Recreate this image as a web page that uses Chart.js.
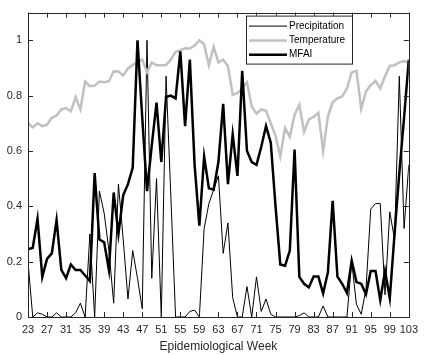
<!DOCTYPE html>
<html>
<head>
<meta charset="utf-8">
<script src="https://cdn.jsdelivr.net/npm/chart.js@4.4.1/dist/chart.umd.min.js"></script>
<style>
  html, body { margin: 0; padding: 0; background: #ffffff; }
  #wrap { width: 424px; height: 355px; }
</style>
</head>
<body>
<div id="wrap"><canvas id="c" width="424" height="355"></canvas></div>
<script>
// Epidemiological weeks on the x axis
const weeks = [
  23, 24, 25, 26, 27, 28, 29, 30, 31, 32,
  33, 34, 35, 36, 37, 38, 39, 40, 41, 42,
  43, 44, 45, 46, 47, 48, 49, 50, 51, 52,
  53, 54, 55, 56, 57, 58, 59, 60, 61, 62,
  63, 64, 65, 66, 67, 68, 69, 70, 71, 72,
  73, 74, 75, 76, 77, 78, 79, 80, 81, 82,
  83, 84, 85, 86, 87, 88, 89, 90, 91, 92,
  93, 94, 95, 96, 97, 98, 99, 100, 101, 102,
  103
];

// Normalised weekly precipitation
const precipitation = [
  0.20, 0.00, 0.015, 0.01, 0.00, 0.00, 0.015, 0.00, 0.00, 0.00,
  0.015, 0.05, 0.00, 0.30, 0.00, 0.455, 0.375, 0.24, 0.05, 0.48,
  0.28, 0.065, 0.24, 0.14, 0.03, 1.00, 0.14, 0.50, 0.00, 0.87,
  0.44, 0.00, 0.00, 0.00, 0.02, 0.025, 0.00, 0.32, 0.41, 0.46,
  0.51, 0.23, 0.34, 0.07, 0.00, 0.00, 0.11, 0.00, 0.145, 0.02,
  0.065, 0.01, 0.00, 0.00, 0.00, 0.00, 0.00, 0.005, 0.015, 0.00,
  0.00, 0.00, 0.04, 0.00, 0.00, 0.00, 0.00, 0.00, 0.20, 0.045,
  0.01, 0.10, 0.39, 0.41, 0.41, 0.08, 0.38, 0.28, 0.87, 0.32,
  0.55
];

// Normalised weekly mean temperature
const temperature = [
  0.700, 0.685, 0.700, 0.690, 0.695, 0.720, 0.728, 0.750, 0.755, 0.743,
  0.794, 0.750, 0.851, 0.834, 0.836, 0.851, 0.848, 0.852, 0.888, 0.887,
  0.873, 0.898, 0.911, 0.920, 0.931, 0.884, 0.920, 0.910, 0.910, 0.910,
  0.930, 0.958, 0.964, 0.971, 0.970, 0.981, 1.000, 0.985, 0.910, 0.976,
  0.920, 0.930, 0.907, 0.803, 0.810, 0.826, 0.848, 0.761, 0.735, 0.750,
  0.745, 0.700, 0.655, 0.580, 0.683, 0.651, 0.731, 0.767, 0.669, 0.714,
  0.723, 0.738, 0.600, 0.725, 0.776, 0.790, 0.797, 0.826, 0.884, 0.890,
  0.752, 0.815, 0.838, 0.853, 0.826, 0.870, 0.908, 0.910, 0.920, 0.925,
  0.918
];

// Mosquito-Favourable Atmospheric Index
const mfai = [
  0.245, 0.250, 0.355, 0.145, 0.210, 0.230, 0.350, 0.170, 0.140, 0.190,
  0.170, 0.170, 0.150, 0.130, 0.520, 0.280, 0.270, 0.170, 0.450, 0.300,
  0.440, 0.480, 0.540, 1.000, 0.720, 0.455, 0.620, 0.775, 0.560, 0.795,
  0.800, 0.790, 0.960, 0.690, 0.930, 0.550, 0.330, 0.580, 0.465, 0.460,
  0.560, 0.770, 0.480, 0.660, 0.510, 0.890, 0.600, 0.560, 0.550, 0.615,
  0.690, 0.630, 0.400, 0.190, 0.185, 0.240, 0.605, 0.145, 0.120, 0.107,
  0.146, 0.146, 0.085, 0.162, 0.420, 0.146, 0.120, 0.087, 0.204, 0.126,
  0.120, 0.082, 0.166, 0.166, 0.061, 0.166, 0.068, 0.300, 0.520, 0.720,
  0.930
];

const xTicks = [23, 27, 31, 35, 39, 43, 47, 51, 55, 59, 63, 67, 71, 75, 79, 83, 87, 91, 95, 99, 103];
const yTicks = [0, 0.2, 0.4, 0.6, 0.8, 1];

const AXIS_COLOR = '#262626';
const FONT_FAMILY = '"Liberation Sans", Arial, Helvetica, sans-serif';

const toPoints = (ys) => weeks.map((w, i) => ({ x: w, y: ys[i] }));

// Inward tick marks on all four sides plus the box outline
const frameTicks = {
  id: 'frameTicks',
  afterDatasetsDraw(chart) {
    const { ctx, chartArea: a, scales } = chart;
    const len = 5;
    ctx.save();
    ctx.strokeStyle = AXIS_COLOR;
    ctx.lineWidth = 1;
    ctx.beginPath();
    xTicks.forEach(v => {
      const px = Math.round(scales.x.getPixelForValue(v)) + 0.5;
      ctx.moveTo(px, a.bottom); ctx.lineTo(px, a.bottom - len);
      ctx.moveTo(px, a.top); ctx.lineTo(px, a.top + len);
    });
    yTicks.forEach(v => {
      const py = Math.round(scales.y.getPixelForValue(v)) + 0.5;
      ctx.moveTo(a.left, py); ctx.lineTo(a.left + len, py);
      ctx.moveTo(a.right, py); ctx.lineTo(a.right - len, py);
    });
    ctx.stroke();
    ctx.strokeRect(Math.round(a.left) + 0.5, Math.round(a.top) + 0.5,
                   Math.round(a.right - a.left), Math.round(a.bottom - a.top));
    ctx.restore();
  }
};

// Boxed legend inside the plot, upper right
const boxLegend = {
  id: 'boxLegend',
  afterDraw(chart) {
    const { ctx, chartArea: a } = chart;
    const bx = a.left + 218, by = a.top + 3, bw = 106, bh = 48;
    ctx.save();
    ctx.fillStyle = '#ffffff';
    ctx.fillRect(bx, by, bw, bh);
    ctx.strokeStyle = AXIS_COLOR;
    ctx.lineWidth = 1;
    ctx.strokeRect(bx + 0.5, by + 0.5, bw, bh);
    ctx.font = '10px ' + FONT_FAMILY;
    ctx.textBaseline = 'middle';
    ctx.textAlign = 'left';
    chart.data.datasets.forEach((ds, i) => {
      const y = by + 10.5 + i * 14.3;
      ctx.strokeStyle = ds.borderColor;
      ctx.lineWidth = ds.borderWidth;
      ctx.beginPath();
      ctx.moveTo(bx + 3, y); ctx.lineTo(bx + 41, y);
      ctx.stroke();
      ctx.fillStyle = '#000000';
      ctx.fillText(ds.label, bx + 43, y);
    });
    ctx.restore();
  }
};

new Chart(document.getElementById('c'), {
  type: 'line',
  data: {
    datasets: [
      { label: 'Precipitation', data: toPoints(precipitation), borderColor: '#000000', borderWidth: 1, order: 2 },
      { label: 'Temperature', data: toPoints(temperature), borderColor: '#c0c0c0', borderWidth: 2.5, order: 1 },
      { label: 'MFAI', data: toPoints(mfai), borderColor: '#000000', borderWidth: 2.5, order: 0 }
    ]
  },
  options: {
    responsive: false,
    animation: false,
    devicePixelRatio: 1,
    layout: { padding: { left: 0, right: 8, top: 10, bottom: 0 } },
    elements: {
      point: { radius: 0, hoverRadius: 0 },
      line: { tension: 0, borderJoinStyle: 'miter', fill: false }
    },
    plugins: { legend: { display: false }, tooltip: { enabled: false } },
    scales: {
      x: {
        type: 'linear',
        min: 23, max: 103,
        afterBuildTicks: s => { s.ticks = xTicks.map(v => ({ value: v })); },
        afterFit: s => { s.height = 38; },
        grid: { display: false, drawTicks: false },
        border: { display: false },
        ticks: {
          autoSkip: false, maxRotation: 0, minRotation: 0, padding: 6,
          color: AXIS_COLOR, font: { family: FONT_FAMILY, size: 11 },
          callback: v => String(v)
        },
        title: {
          display: true, text: 'Epidemiological Week', color: AXIS_COLOR,
          font: { family: FONT_FAMILY, size: 12 }, padding: { top: 1, bottom: 1 }
        }
      },
      y: {
        type: 'linear',
        min: 0, max: 1.1,
        afterBuildTicks: s => { s.ticks = yTicks.map(v => ({ value: v })); },
        afterFit: s => { s.width = 28; },
        grid: { display: false, drawTicks: false },
        border: { display: false },
        ticks: {
          padding: 6, color: AXIS_COLOR, font: { family: FONT_FAMILY, size: 11 },
          callback: v => String(Math.round(v * 10) / 10)
        }
      }
    }
  },
  plugins: [frameTicks, boxLegend]
});
</script>
</body>
</html>
